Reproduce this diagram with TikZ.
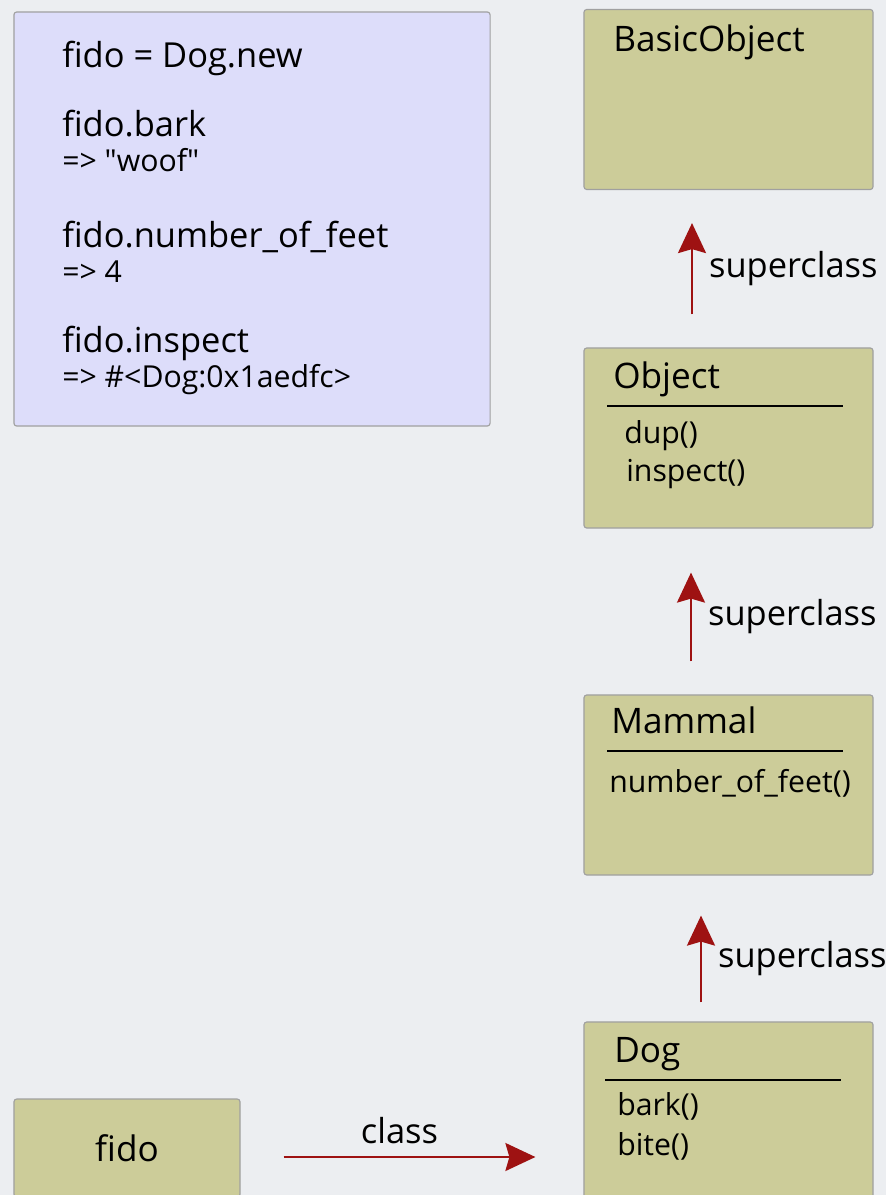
\documentclass[tikz,border=0pt]{standalone}
\usepackage{fontspec}
\setmainfont{Open Sans}
\usepackage{tikz}
\usetikzlibrary{arrows.meta}

\definecolor{bgcol}{RGB}{236,238,241}
\definecolor{khaki}{RGB}{204,204,153}
\definecolor{lavender}{RGB}{221,221,250}
\definecolor{arrowred}{RGB}{158,18,18}
\definecolor{boxline}{RGB}{160,160,160}

\begin{document}
\begin{tikzpicture}[x=0.025cm, y=-0.025cm,
        classbox/.style={draw=boxline, fill=khaki, line width=0.8pt, rounded corners=2pt,
                         minimum width=7.225cm, minimum height=4.5cm},
        codeline/.style={anchor=base west, inner sep=0pt, font=\fontsize{24.5}{28}\selectfont},
        resultline/.style={anchor=base west, inner sep=0pt, font=\fontsize{21.5}{25}\selectfont},
        classname/.style={anchor=base west, inner sep=0pt, font=\fontsize{25}{29}\selectfont},
        methodname/.style={anchor=base west, inner sep=0pt, font=\fontsize{21.5}{25}\selectfont},
        divider/.style={line width=1.1pt, black},
        redarrow/.style={draw=arrowred, line width=1.5pt,
                         -{Stealth[length=0.75cm, width=0.7cm, inset=0.1cm]}},
        arrowlabel/.style={inner sep=0pt, font=\fontsize{24.5}{28}\selectfont}]

    \fill[bgcol] (0,0) rectangle (886,1195);
    \useasboundingbox (0,0) rectangle (886,1195);

    % irb session
    \node[draw=boxline, fill=lavender, line width=0.8pt, rounded corners=2pt,
          minimum width=11.9cm, minimum height=10.35cm] (session) at (252,219) {};
    \node[codeline]   (cmd1) at (62,68)  {fido = Dog.new};
    \node[codeline]   (cmd2) at (62,137) {fido.bark};
    \node[resultline] (res2) at (62,172) {=> \textquotedbl woof\textquotedbl};
    \node[codeline]   (cmd3) at (62,247) {fido.number\_of\_feet};
    \node[resultline] (res3) at (62,282) {=> 4};
    \node[codeline]   (cmd4) at (62,352) {fido.inspect};
    \node[resultline] (res4) at (62,387) {=> \#<Dog:0x1aedfc>};

    % class chain
    \node[classbox] (BasicObject) at (728.5,99.5) {};
    \node[classname] at (613,52) {BasicObject};

    \node[classbox] (Object) at (728.5,438) {};
    \node[classname] at (613,388) {Object};
    \draw[divider] (607,406) -- (843,406);
    \node[methodname] at (624,443) {dup()};
    \node[methodname] at (626,481) {inspect()};

    \node[classbox] (Mammal) at (728.5,785) {};
    \node[classname] at (611,733) {Mammal};
    \draw[divider] (607,751) -- (843,751);
    \node[methodname] at (609,792) {number\_of\_feet()};

    \node[classbox] (Dog) at (728.5,1112) {};
    \node[classname] at (614,1062) {Dog};
    \draw[divider] (605,1080) -- (841,1080);
    \node[methodname] at (617,1115) {bark()};
    \node[methodname] at (617,1155) {bite()};

    % the instance
    \node[draw=boxline, fill=khaki, line width=0.8pt, rounded corners=2pt,
          minimum width=5.65cm, minimum height=2.45cm,
          font=\fontsize{25}{29}\selectfont] (fido) at (127,1148) {fido};

    % arrows
    \draw[redarrow] ([shift={(-36.5,-33)}]Object.north) -- ([shift={(-36.5,33)}]BasicObject.south)
        node[arrowlabel, midway, anchor=west, xshift=0.4cm] {superclass};
    \draw[redarrow] ([shift={(-37.5,-33)}]Mammal.north) -- ([shift={(-37.5,44)}]Object.south)
        node[arrowlabel, midway, anchor=west, xshift=0.4cm] {superclass};
    \draw[redarrow] ([shift={(-27.5,-19)}]Dog.north) -- ([shift={(-27.5,40)}]Mammal.south)
        node[arrowlabel, midway, anchor=west, xshift=0.4cm] {superclass};
    \draw[redarrow] ([shift={(43,9)}]fido.east) -- ([shift={(-48,45)}]Dog.west)
        node[arrowlabel, midway, above=0.3cm, xshift=-0.25cm] {class};
\end{tikzpicture}
\end{document}
